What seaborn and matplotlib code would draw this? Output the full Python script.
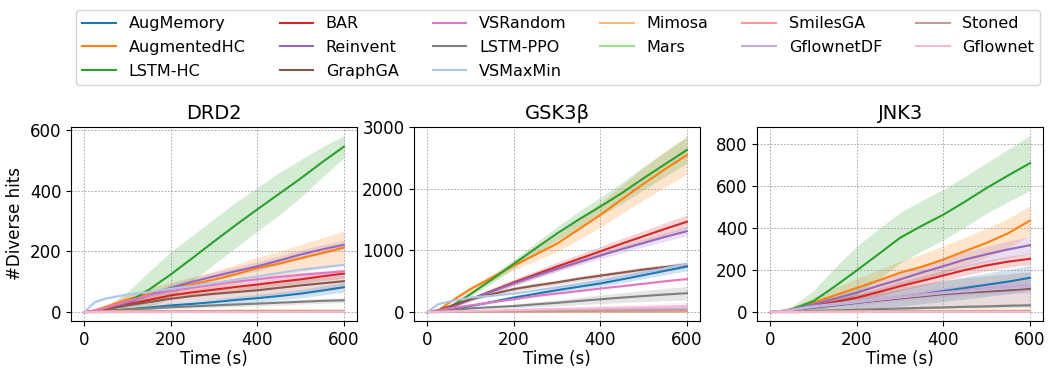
import numpy as np
import pandas as pd
import matplotlib
matplotlib.use("Agg")
import matplotlib.pyplot as plt
import seaborn as sns

plt.rcParams['font.family'] = ['DejaVu Sans']

TIMES = [0, 25, 50, 100, 150, 200, 250, 300, 350, 400, 450, 500, 550, 600]

METHODS = ["AugMemory", "AugmentedHC", "LSTM-HC", "BAR", "Reinvent", "GraphGA",
           "VSRandom", "LSTM-PPO", "VSMaxMin", "Mimosa", "Mars", "SmilesGA",
           "GflownetDF", "Stoned", "Gflownet"]

COLORS = ["#1f77b4", "#ff7f0e", "#2ca02c", "#d62728", "#9467bd", "#8c564b",
          "#e377c2", "#7f7f7f", "#aec7e8", "#ffbb78", "#98df8a", "#ff9896",
          "#c5b0d5", "#c49c94", "#f7b6d2"]

TASKS = ["DRD2", "GSK3β", "JNK3"]

# ---------------- DRD2 ----------------
drd2_mean = {
    "AugMemory":   [0, 1, 3, 9, 15, 22, 27, 33, 40, 46, 53, 61, 71, 82],
    "AugmentedHC": [0, 6, 17, 42, 60, 78, 92, 107, 125, 145, 160, 178, 195, 213],
    "LSTM-HC":     [0, 1, 4, 31, 74, 124, 178, 233, 287, 339, 390, 441, 495, 546],
    "BAR":         [0, 4, 11, 25, 40, 55, 65, 74, 83, 91, 100, 108, 118, 127],
    "Reinvent":    [0, 2, 6, 31, 55, 80, 100, 118, 135, 151, 170, 190, 207, 222],
    "GraphGA":     [0, 3, 9, 22, 33, 44, 53, 60, 66, 72, 80, 88, 95, 102],
    "VSRandom":    [0, 5, 14, 36, 55, 69, 80, 90, 100, 108, 116, 123, 129, 134],
    "LSTM-PPO":    [0, 1, 3, 9, 12, 16, 19, 22, 25, 28, 31, 34, 37, 39],
    "VSMaxMin":    [0, 33, 45, 58, 66, 77, 86, 96, 107, 118, 129, 140, 148, 156],
    "Mimosa":      [0, 1, 2, 3, 3, 4, 4, 4, 5, 5, 5, 5, 5, 5],
    "Mars":        [0, 0, 0, 0, 0, 1, 1, 1, 1, 1, 1, 1, 1, 1],
    "SmilesGA":    [0, 0, 1, 1, 1, 1, 2, 2, 2, 2, 2, 2, 2, 2],
    "GflownetDF":  [0, 0, 0, 0, 1, 1, 1, 1, 1, 1, 1, 1, 1, 1],
    "Stoned":      [0, 0, 1, 1, 2, 2, 2, 2, 3, 3, 3, 3, 3, 3],
    "Gflownet":    [0, 0, 0, 0, 0, 0, 0, 0, 0, 0, 1, 1, 1, 1],
}
drd2_std = {
    "AugMemory":   [0, 1, 2, 4, 6, 8, 9, 10, 11, 12, 13, 14, 15, 16],
    "AugmentedHC": [0, 3, 8, 15, 20, 22, 25, 28, 32, 36, 40, 45, 50, 55],
    "LSTM-HC":     [0, 2, 8, 35, 60, 75, 75, 75, 75, 72, 70, 62, 50, 36],
    "BAR":         [0, 2, 4, 6, 8, 10, 11, 12, 12, 13, 13, 14, 14, 15],
    "Reinvent":    [0, 2, 4, 8, 10, 12, 13, 14, 14, 15, 15, 15, 15, 15],
    "GraphGA":     [0, 2, 4, 8, 12, 15, 17, 18, 19, 20, 20, 20, 20, 20],
    "VSRandom":    [0, 2, 3, 5, 5, 6, 6, 7, 7, 7, 8, 8, 8, 8],
    "LSTM-PPO":    [0, 1, 2, 3, 4, 5, 6, 6, 7, 7, 8, 8, 8, 8],
    "VSMaxMin":    [0, 4, 5, 5, 5, 5, 5, 5, 5, 5, 5, 5, 5, 5],
    "Mimosa":      [0, 1, 1, 1, 1, 1, 1, 1, 1, 1, 1, 1, 1, 1],
    "Mars":        [0, 0, 0, 0, 0, 1, 1, 1, 1, 1, 1, 1, 1, 1],
    "SmilesGA":    [0, 0, 1, 1, 1, 1, 1, 1, 1, 1, 1, 1, 1, 1],
    "GflownetDF":  [0, 0, 0, 0, 1, 1, 1, 1, 1, 1, 1, 1, 1, 1],
    "Stoned":      [0, 0, 1, 1, 1, 1, 1, 2, 2, 2, 2, 2, 2, 2],
    "Gflownet":    [0, 0, 0, 0, 0, 0, 0, 0, 0, 0, 1, 1, 1, 1],
}

# ---------------- GSK3β ----------------
gsk3b_mean = {
    "AugMemory":   [0, 10, 30, 98, 165, 235, 295, 355, 410, 464, 530, 600, 670, 738],
    "AugmentedHC": [0, 20, 150, 372, 560, 754, 930, 1109, 1340, 1574, 1830, 2080, 2320, 2546],
    "LSTM-HC":     [0, 5, 70, 290, 530, 781, 1030, 1273, 1500, 1710, 1930, 2170, 2400, 2628],
    "BAR":         [0, 20, 70, 208, 345, 481, 610, 738, 860, 984, 1110, 1230, 1350, 1464],
    "Reinvent":    [0, 15, 60, 208, 335, 464, 585, 700, 810, 918, 1020, 1120, 1220, 1311],
    "GraphGA":     [0, 30, 90, 208, 290, 372, 430, 481, 540, 590, 640, 690, 730, 770],
    "VSRandom":    [0, 25, 60, 109, 160, 208, 260, 300, 340, 382, 420, 460, 500, 536],
    "LSTM-PPO":    [0, 10, 30, 60, 80, 98, 125, 150, 180, 208, 235, 260, 285, 306],
    "VSMaxMin":    [0, 126, 170, 235, 265, 300, 350, 400, 455, 510, 570, 640, 710, 780],
    "Mimosa":      [0, 2, 5, 8, 10, 12, 14, 16, 18, 20, 22, 24, 26, 28],
    "Mars":        [0, 0, 1, 1, 2, 2, 3, 3, 4, 4, 5, 5, 5, 5],
    "SmilesGA":    [0, 1, 2, 3, 4, 5, 6, 7, 7, 8, 9, 9, 10, 10],
    "GflownetDF":  [0, 2, 5, 10, 15, 20, 25, 30, 35, 40, 45, 50, 55, 60],
    "Stoned":      [0, 1, 3, 6, 9, 12, 15, 17, 20, 22, 24, 26, 28, 30],
    "Gflownet":    [0, 3, 8, 18, 25, 33, 40, 48, 55, 62, 70, 78, 88, 98],
}
gsk3b_std = {
    "AugMemory":   [0, 3, 10, 20, 25, 30, 35, 40, 45, 50, 55, 60, 65, 70],
    "AugmentedHC": [0, 10, 25, 40, 55, 70, 100, 130, 170, 200, 230, 260, 290, 310],
    "LSTM-HC":     [0, 3, 20, 40, 60, 70, 90, 110, 130, 150, 170, 190, 200, 210],
    "BAR":         [0, 5, 15, 30, 40, 50, 60, 70, 75, 80, 85, 90, 100, 110],
    "Reinvent":    [0, 5, 15, 25, 30, 35, 40, 45, 50, 55, 60, 65, 70, 75],
    "GraphGA":     [0, 5, 15, 25, 30, 35, 40, 40, 40, 40, 40, 40, 40, 40],
    "VSRandom":    [0, 2, 5, 8, 10, 12, 12, 14, 14, 15, 15, 15, 15, 15],
    "LSTM-PPO":    [0, 5, 10, 15, 20, 30, 40, 50, 60, 70, 80, 90, 100, 110],
    "VSMaxMin":    [0, 10, 10, 10, 10, 15, 20, 25, 30, 35, 40, 45, 50, 55],
    "Mimosa":      [0, 1, 2, 3, 4, 5, 6, 7, 8, 9, 10, 10, 10, 10],
    "Mars":        [0, 0, 1, 1, 1, 1, 2, 2, 2, 2, 2, 2, 2, 2],
    "SmilesGA":    [0, 1, 1, 2, 2, 3, 3, 4, 4, 4, 5, 5, 5, 5],
    "GflownetDF":  [0, 2, 4, 8, 12, 15, 18, 22, 26, 30, 33, 36, 38, 40],
    "Stoned":      [0, 1, 2, 4, 6, 8, 10, 11, 12, 13, 14, 15, 15, 15],
    "Gflownet":    [0, 3, 8, 15, 20, 25, 30, 35, 40, 45, 50, 55, 60, 65],
}

# ---------------- JNK3 ----------------
jnk3_mean = {
    "AugMemory":   [0, 3, 8, 21, 32, 44, 56, 68, 84, 100, 115, 130, 145, 163],
    "AugmentedHC": [0, 5, 15, 44, 80, 115, 150, 187, 215, 250, 290, 329, 375, 435],
    "LSTM-HC":     [0, 2, 13, 52, 123, 198, 275, 353, 410, 463, 525, 590, 650, 708],
    "BAR":         [0, 3, 10, 28, 48, 68, 95, 123, 148, 174, 200, 222, 240, 253],
    "Reinvent":    [0, 4, 12, 36, 65, 92, 125, 155, 188, 218, 250, 275, 298, 318],
    "GraphGA":     [0, 3, 10, 25, 35, 44, 55, 65, 75, 85, 92, 98, 104, 111],
    "VSRandom":    [0, 4, 10, 25, 36, 48, 60, 72, 84, 95, 104, 112, 118, 123],
    "LSTM-PPO":    [0, 1, 2, 5, 8, 11, 14, 17, 20, 22, 25, 27, 30, 32],
    "VSMaxMin":    [0, 5, 12, 28, 40, 50, 60, 70, 80, 90, 98, 106, 113, 120],
    "Mimosa":      [0, 0, 1, 2, 3, 4, 4, 5, 5, 6, 6, 7, 7, 8],
    "Mars":        [0, 0, 0, 0, 1, 1, 1, 1, 1, 2, 2, 2, 2, 2],
    "SmilesGA":    [0, 0, 0, 1, 1, 1, 2, 2, 2, 2, 3, 3, 3, 3],
    "GflownetDF":  [0, 4, 10, 24, 35, 46, 58, 70, 82, 93, 102, 110, 117, 122],
    "Stoned":      [0, 0, 0, 1, 1, 1, 2, 2, 2, 2, 3, 3, 3, 3],
    "Gflownet":    [0, 0, 0, 0, 0, 0, 1, 1, 1, 1, 1, 1, 1, 1],
}
jnk3_std = {
    "AugMemory":   [0, 3, 8, 18, 25, 30, 35, 40, 45, 50, 53, 56, 58, 60],
    "AugmentedHC": [0, 3, 10, 25, 35, 45, 50, 55, 60, 65, 65, 70, 70, 70],
    "LSTM-HC":     [0, 3, 15, 50, 90, 115, 120, 120, 120, 120, 120, 120, 125, 130],
    "BAR":         [0, 2, 5, 10, 14, 17, 20, 22, 24, 25, 25, 26, 26, 27],
    "Reinvent":    [0, 2, 6, 15, 20, 25, 28, 30, 32, 34, 36, 38, 40, 40],
    "GraphGA":     [0, 3, 8, 20, 30, 40, 50, 55, 60, 65, 70, 75, 78, 80],
    "VSRandom":    [0, 2, 4, 8, 10, 12, 14, 16, 18, 20, 22, 24, 26, 28],
    "LSTM-PPO":    [0, 1, 2, 3, 4, 5, 6, 7, 8, 8, 9, 9, 10, 10],
    "VSMaxMin":    [0, 2, 4, 8, 10, 12, 14, 16, 18, 20, 22, 24, 26, 28],
    "Mimosa":      [0, 0, 1, 1, 2, 2, 2, 3, 3, 3, 3, 4, 4, 4],
    "Mars":        [0, 0, 0, 0, 1, 1, 1, 1, 1, 1, 1, 1, 1, 1],
    "SmilesGA":    [0, 0, 0, 1, 1, 1, 1, 1, 1, 1, 2, 2, 2, 2],
    "GflownetDF":  [0, 2, 4, 8, 12, 15, 18, 20, 22, 24, 26, 28, 30, 32],
    "Stoned":      [0, 0, 0, 1, 1, 1, 1, 1, 1, 1, 2, 2, 2, 2],
    "Gflownet":    [0, 0, 0, 0, 0, 0, 1, 1, 1, 1, 1, 1, 1, 1],
}

TASK_DATA = [(drd2_mean, drd2_std), (gsk3b_mean, gsk3b_std), (jnk3_mean, jnk3_std)]
YTICKS = [[0, 200, 400, 600], [0, 1000, 2000, 3000], [0, 200, 400, 600, 800]]

palette = dict(zip(METHODS, COLORS))

fig, axes = plt.subplots(1, 3, figsize=(10.51, 3.68), dpi=100)
fig.subplots_adjust(left=0.0676, right=0.9924, top=0.655, bottom=0.128, wspace=0.2)

for ax, task, (means, stds), yt in zip(axes, TASKS, TASK_DATA, YTICKS):
    rows = []
    for m in METHODS:
        for t, v in zip(TIMES, means[m]):
            rows.append({"Time (s)": t, "hits": v, "method": m})
    df = pd.DataFrame(rows)
    sns.lineplot(data=df, x="Time (s)", y="hits", hue="method", hue_order=METHODS,
                 palette=palette, ax=ax, legend=False, linewidth=1.5, errorbar=None)
    for m in METHODS:
        mu = np.array(means[m], dtype=float)
        sd = np.array(stds[m], dtype=float)
        ax.fill_between(TIMES, np.clip(mu - sd, 0, None), mu + sd,
                        color=palette[m], alpha=0.2, linewidth=0)
    ax.set_title(task, fontsize=14)
    ax.set_xticks([0, 200, 400, 600])
    ax.set_yticks(yt)
    ax.tick_params(labelsize=12)
    ax.set_xlabel("Time (s)", fontsize=12, labelpad=1)
    ax.set_ylabel("")
    ax.grid(True, linestyle=(0, (2, 2)), color="#9a9a9a", linewidth=0.6)

axes[0].set_ylabel("#Diverse hits", fontsize=12)

handles = [plt.Line2D([0], [0], color=c, linewidth=1.5) for c in COLORS]
fig.legend(handles, METHODS, loc="upper center", bbox_to_anchor=(0.5312, 0.9736),
           borderaxespad=0, ncol=6, fontsize=11.5, frameon=True,
           columnspacing=2.12, handlelength=2.1, labelspacing=0.55)

fig.savefig("out.png", dpi=100)
